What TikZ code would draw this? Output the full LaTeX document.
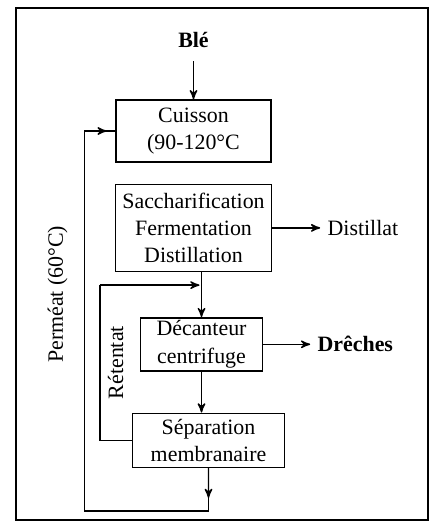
\documentclass[tikz,border=0pt,11pt]{standalone}
\usepackage{fontspec}
\setmainfont{Liberation Serif}
\usetikzlibrary{arrows,positioning,calc}

\begin{document}
\begin{tikzpicture}[>=stealth']
  \tikzstyle{process}=[rectangle,draw=black,line width=0.7pt,align=center,inner sep=1pt]
  \tikzstyle{product}=[inner sep=3.5pt]
  \tikzstyle{flow}=[->,line width=0.7pt]
  \tikzstyle{pipe}=[line width=0.7pt]

  \useasboundingbox (0,0) rectangle (217.5pt,-261.5pt);
  \draw [line width=1pt] (8pt,-4pt) rectangle (214pt,-260pt);

  \begin{scope}
    % process line
    \node [process,minimum width=77.5pt,minimum height=31pt] (cuisson) at (96.75pt,-65.5pt) {Cuisson\\(90-120°C};
    \node [product,font=\bfseries] (ble) [above = 22pt of cuisson] {Blé};
    \node [process,minimum width=78pt,minimum height=43.5pt] (sacch) [below = 10.5pt of cuisson] {Saccharification\\Fermentation\\Distillation};
    \node [process,minimum width=61pt,minimum height=26.5pt] (decant) [below = 22.5pt of sacch,xshift=4pt] {Décanteur\\centrifuge};
    \node [process,minimum width=76pt,minimum height=27pt] (sep) [below = 20.5pt of decant,xshift=3.5pt] {Séparation\\membranaire};
    \node [product] (distillat) [right = 24pt of sacch] {Distillat};
    \node [product,font=\bfseries] (dreches) [right = 23.5pt of decant] {Drêches};
  \end{scope}

  \begin{scope}
    \path [flow,shorten <=3pt] (ble) edge (cuisson);
    \path [flow] (sacch) edge (distillat);
    \path [flow] (decant) edge (dreches);
    \path [flow] (sacch.south -| decant.north) edge (decant.north);
    \path [flow] (decant) edge (decant.south |- sep.north);
  \end{scope}

  % retentat loop
  \coordinate (merge) at ($(sacch.south -| decant.north)+(0,-6.5pt)$);
  \draw [pipe] (sep.west) -- ++(-16pt,0) coordinate (rcorner)
    -- (rcorner |- merge) node [midway,rotate=90,anchor=north] {Rétentat};
  \draw [flow,shorten >=1pt] (rcorner |- merge) -- (merge);

  % permeat loop
  \coordinate (pbot) at ($(sep.south)+(0,-21.5pt)$);
  \coordinate (pleft) at ($(cuisson.west)+(-15.5pt,0)$);
  \draw [flow] (sep.south) -- ($(sep.south)!0.7!(pbot)$);
  \draw [pipe] (sep.south) -- (pbot) -- (pbot -| pleft)
    -- (pleft) node [pos=0.57,rotate=90,anchor=south,inner sep=8pt] {Perméat (60°C)};
  \draw [flow] (pleft) -- ($(pleft)!0.72!(cuisson.west)$);
  \draw [pipe] (pleft) -- (cuisson.west);
\end{tikzpicture}
\end{document}
